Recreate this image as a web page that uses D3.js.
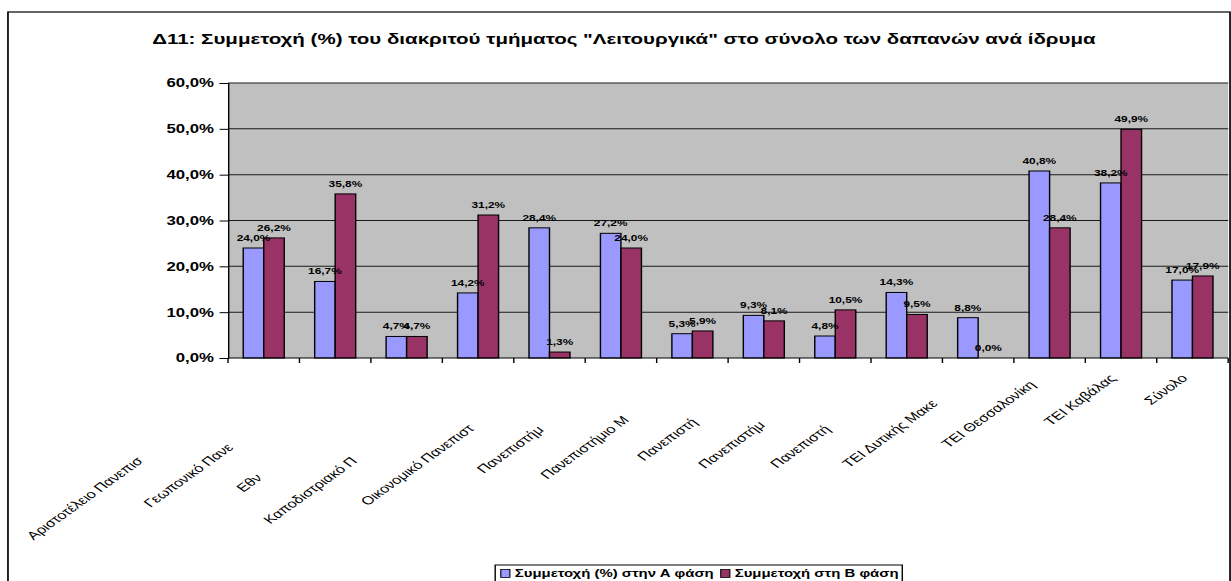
<!DOCTYPE html>
<html><head><meta charset="utf-8">
<script src="https://cdn.jsdelivr.net/npm/d3@7"></script>
<style>html,body{margin:0;padding:0;background:#fff;overflow:hidden}</style>
</head><body>
<svg id="c" width="1231" height="581" viewBox="0 0 880 581" preserveAspectRatio="none"></svg>
<script>
// ---- data ----
const categories = ["Αριστοτέλειο Πανεπισ", "Γεωπονικό Πανε", "Εθν", "Καποδιστριακό Π", "Οικονομικό Πανεπιστ",
  "Πανεπιστήμ", "Πανεπιστήμιο Μ", "Πανεπιστή", "Πανεπιστήμ", "Πανεπιστή",
  "ΤΕΙ Δυτικής Μακε", "ΤΕΙ Θεσσαλονίκη", "ΤΕΙ Καβάλας", "Σύνολο"];
const seriesNames = ["Συμμετοχή (%) στην Α φάση", "Συμμετοχή στη Β φάση"];
const phaseA = [24.0, 16.7, 4.7, 14.2, 28.4, 27.2, 5.3, 9.3, 4.8, 14.3, 8.8, 40.8, 38.2, 17.0];
const phaseB = [26.2, 35.8, 4.7, 31.2, 1.3, 24.0, 5.9, 8.1, 10.5, 9.5, 0.0, 28.4, 49.9, 17.9];
const yTicks = [0, 10, 20, 30, 40, 50, 60];
const titleText = "Δ11: Συμμετοχή (%) του διακριτού τμήματος \"Λειτουργικά\" στο σύνολο των δαπανών ανά ίδρυμα";
// layout: how far the visible part of each (clipped) axis label sits back from the tick
const labelTrim = [117, 98, 141, 117, 71, 73, 59, 62, 66, 72, 36, 9, 0, 0];

// ---- layout ----
const colors = ["#9999FF", "#993366"];
const fmt = v => v.toFixed(1).replace(".", ",") + "%";
const svg = d3.select("#c");
const plot = {left: 163, right: 878, top: 83, bottom: 358};

svg.append("rect").attr("x", 5.7).attr("y", 12).attr("width", 873.6).attr("height", 600)
  .attr("fill", "#fff").attr("stroke", "#000").attr("stroke-width", 1.2);

svg.append("text").attr("x", 446).attr("y", 44).attr("text-anchor", "middle")
  .attr("font-family", "Liberation Sans, Arial, sans-serif").attr("font-weight", "bold")
  .attr("font-size", 14.67).attr("fill", "#000").text(titleText);

const x0 = d3.scaleBand().domain(categories.map((c, i) => i)).range([plot.left, plot.right]).padding(0);
const bw = x0.bandwidth();
const barW = bw * 0.287;
const x1 = d3.scaleBand().domain([0, 1]).range([bw / 2 - barW, bw / 2 + barW]).padding(0);
const y = d3.scaleLinear().domain([0, 60]).range([plot.bottom, plot.top]);

svg.append("rect").attr("x", plot.left).attr("y", plot.top)
  .attr("width", plot.right - plot.left).attr("height", plot.bottom - plot.top).attr("fill", "#C0C0C0");

// gridlines
svg.append("g").selectAll("line").data(yTicks.filter(d => d > 0)).join("line")
  .attr("x1", plot.left).attr("x2", plot.right).attr("y1", d => y(d)).attr("y2", d => y(d))
  .attr("stroke", "#1a1a1a").attr("stroke-width", 1);

// y axis
const yAxis = svg.append("g").attr("transform", `translate(${plot.left},0)`)
  .call(d3.axisLeft(y).tickValues(yTicks).tickSize(6).tickPadding(4).tickFormat(fmt));
yAxis.select(".domain").attr("stroke", "#000").attr("stroke-width", 1);
yAxis.selectAll(".tick line").attr("stroke", "#000");
yAxis.selectAll("text").attr("font-family", "Liberation Sans, Arial, sans-serif")
  .attr("font-weight", "bold").attr("font-size", 12).attr("fill", "#000");

// bars
const data = categories.map((c, i) => ({i, vals: [phaseA[i], phaseB[i]]}));
const groups = svg.append("g").selectAll("g").data(data).join("g")
  .attr("transform", d => `translate(${x0(d.i)},0)`);
groups.selectAll("rect").data(d => d.vals.map((v, k) => ({v, k}))).join("rect")
  .attr("x", d => x1(d.k)).attr("width", x1.bandwidth())
  .attr("y", d => y(d.v)).attr("height", d => y(0) - y(d.v))
  .attr("fill", d => colors[d.k]).attr("stroke", "#000").attr("stroke-width", 1);
groups.selectAll("text").data(d => d.vals.map((v, k) => ({v, k}))).join("text")
  .attr("x", d => x1(d.k) + x1.bandwidth() / 2).attr("y", d => y(d.v) - 7)
  .attr("text-anchor", "middle").attr("font-family", "Liberation Sans, Arial, sans-serif")
  .attr("font-weight", "bold").attr("font-size", 8.5).attr("fill", "#000").text(d => fmt(d.v));

// x axis
const xa = svg.append("g");
xa.append("line").attr("x1", plot.left).attr("x2", plot.right).attr("y1", y(0)).attr("y2", y(0))
  .attr("stroke", "#000").attr("stroke-width", 1);
const bounds = categories.map((c, i) => x0(i)).concat([plot.right]);
xa.selectAll("line.t").data(bounds).join("line").attr("class", "t")
  .attr("x1", d => d).attr("x2", d => d).attr("y1", y(0)).attr("y2", y(0) + 5)
  .attr("stroke", "#000").attr("stroke-width", 1);
xa.selectAll("text").data(categories).join("text")
  .attr("transform", (d, i) => `translate(${x0(i) + bw / 2 - 3},${y(0) + 21}) rotate(-45)`)
  .attr("x", (d, i) => -labelTrim[i]).attr("y", 0)
  .attr("text-anchor", "end").attr("font-family", "Liberation Sans, Arial, sans-serif")
  .attr("font-size", 11.6).attr("fill", "#000").text(d => d);

// legend
const lg = svg.append("g");
lg.append("rect").attr("x", 354).attr("y", 565).attr("width", 291).attr("height", 40)
  .attr("fill", "#fff").attr("stroke", "#000").attr("stroke-width", 1);
let lx = 358;
seriesNames.forEach((n, k) => {
  lg.append("rect").attr("x", lx).attr("y", 569.5).attr("width", 6.5).attr("height", 8)
    .attr("fill", colors[k]).attr("stroke", "#000").attr("stroke-width", 0.8);
  const t = lg.append("text").attr("x", lx + 10).attr("y", 577.5)
    .attr("font-family", "Liberation Sans, Arial, sans-serif").attr("font-weight", "bold")
    .attr("font-size", 10.67).attr("fill", "#000").text(n);
  lx += 10 + t.node().getComputedTextLength() + 5;
});
</script>
</body></html>
